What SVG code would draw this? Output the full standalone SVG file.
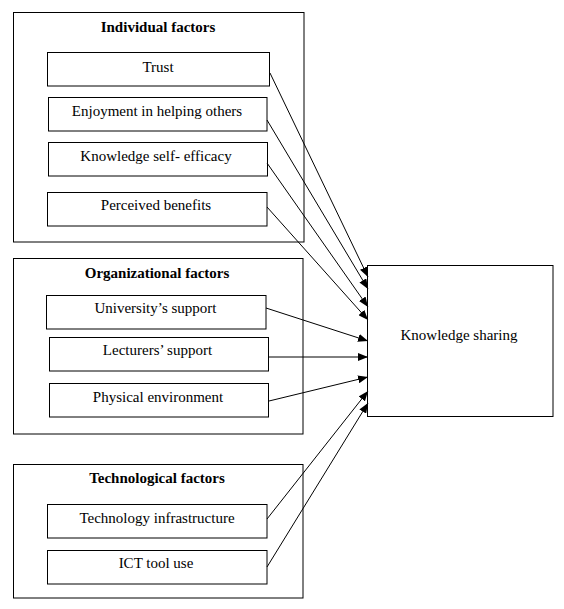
<svg xmlns="http://www.w3.org/2000/svg" width="564" height="609" viewBox="0 0 564 609">
<defs>
<marker id="ah" viewBox="0 0 10 8" refX="10" refY="4" markerWidth="10" markerHeight="8" markerUnits="userSpaceOnUse" orient="auto">
<path d="M0,0 L10,4 L0,8 Z" fill="#000"/>
</marker>
<style>
rect{fill:#fff;stroke:#000;stroke-width:1}
text{font-family:"Liberation Serif","Times New Roman",serif;font-size:15px;fill:#000;text-anchor:middle}
.h{font-weight:bold}
#connectors line{stroke:#000;stroke-width:1;marker-end:url(#ah)}
</style>
</defs>
<rect width="564" height="609" style="stroke:none"/>
<g id="individual">
<rect x="13.5" y="12.5" width="290.5" height="229.5"/>
<text class="h" x="158" y="32">Individual factors</text>
</g>
<g id="trust"><rect x="47.5" y="52.5" width="222" height="33.5"/><text x="158" y="72">Trust</text></g>
<g id="enjoyment"><rect x="48.5" y="97.5" width="218.5" height="33.5"/><text x="157" y="116">Enjoyment in helping others</text></g>
<g id="selfefficacy"><rect x="48.5" y="142.5" width="219" height="33.5"/><text x="156" y="161">Knowledge self- efficacy</text></g>
<g id="benefits"><rect x="47.5" y="192.5" width="219.5" height="33.5"/><text x="156" y="210">Perceived benefits</text></g>
<g id="organizational">
<rect x="13.5" y="258.5" width="289.5" height="175.5"/>
<text class="h" x="157" y="278">Organizational factors</text>
</g>
<g id="university"><rect x="46.5" y="295.5" width="219.5" height="33.5"/><text x="155.5" y="313">University’s support</text></g>
<g id="lecturers"><rect x="49.5" y="337.5" width="219" height="33.5"/><text x="157.5" y="355">Lecturers’ support</text></g>
<g id="physical"><rect x="49.5" y="383.5" width="219" height="33.5"/><text x="158" y="402">Physical environment</text></g>
<g id="technological">
<rect x="13.5" y="464.5" width="289.5" height="133.5"/>
<text class="h" x="157" y="483">Technological factors</text>
</g>
<g id="infrastructure"><rect x="47.5" y="504.5" width="219.5" height="33.5"/><text x="157" y="523">Technology infrastructure</text></g>
<g id="ict"><rect x="47.5" y="550.5" width="219.5" height="33.5"/><text x="156" y="568">ICT tool use</text></g>
<g id="knowledge"><rect x="367.5" y="265.5" width="185.5" height="151"/><text x="459" y="340">Knowledge sharing</text></g>
<g id="connectors">
<line x1="270" y1="73" x2="368" y2="277"/>
<line x1="267" y1="120" x2="368" y2="289"/>
<line x1="267" y1="163" x2="368" y2="307"/>
<line x1="267" y1="207" x2="368" y2="320"/>
<line x1="266" y1="308" x2="368" y2="341"/>
<line x1="269" y1="357" x2="368" y2="357"/>
<line x1="269" y1="401" x2="368" y2="377"/>
<line x1="267" y1="519" x2="368" y2="391"/>
<line x1="267" y1="567" x2="368" y2="403"/>
</g>
</svg>
